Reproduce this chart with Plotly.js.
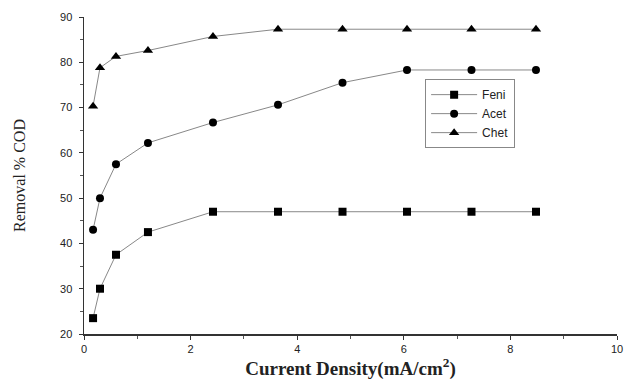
<!DOCTYPE html>
<html><head><meta charset="utf-8">
<script src="https://cdn.plot.ly/plotly-3.0.1.min.js"></script>
<style>html,body{margin:0;padding:0;background:#fff;}#chart{width:627px;height:386px;}</style>
</head><body><div id="chart"></div>
<script>
const currentDensity = [0.17, 0.3, 0.6, 1.2, 2.42, 3.64, 4.85, 6.06, 7.27, 8.48];
const feni = [23.5, 30, 37.5, 42.5, 47, 47, 47, 47, 47, 47];
const acet = [43, 50, 57.5, 62.2, 66.7, 70.6, 75.5, 78.3, 78.3, 78.3];
const chet = [70.3, 78.8, 81.3, 82.6, 85.7, 87.3, 87.3, 87.3, 87.3, 87.3];
const seriesNames = ['Feni', 'Acet', 'Chet'];
const symbols = ['square', 'circle', 'triangle-up'];
const allSeries = [feni, acet, chet];

const traces = allSeries.map((ys, i) => ({
  x: currentDensity, y: ys, name: seriesNames[i], type: 'scatter', mode: 'lines+markers',
  line: {color: '#888', width: 1},
  marker: {symbol: symbols[i], color: '#000', size: i === 2 ? 9 : 8}
}));

const layout = {
  width: 627, height: 386,
  margin: {l: 84, r: 10, t: 17, b: 52},
  paper_bgcolor: '#fff', plot_bgcolor: '#fff',
  showlegend: true,
  legend: {x: 0.64, y: 0.804, xanchor: 'left', yanchor: 'top', bgcolor: '#fff',
    bordercolor: '#888', borderwidth: 1, font: {family: 'Liberation Sans, Arial', size: 12, color: '#222'},
    tracegroupgap: 0, itemwidth: 46},
  xaxis: {range: [0, 10], dtick: 2, tick0: 0, showgrid: false, zeroline: false,
    showline: true, linecolor: '#333', linewidth: 1.5, ticks: 'outside', ticklen: 4, tickcolor: '#333',
    minor: {ticks: 'outside', ticklen: 3, dtick: 1, tickcolor: '#555'},
    tickfont: {family: 'Liberation Sans, Arial', size: 11, color: '#222'},
    title: {text: 'Current Density(mA/cm<sup>2</sup>)', font: {family: 'Liberation Serif, Times New Roman', size: 19, color: '#222', weight: 'bold'}, standoff: 6}},
  yaxis: {range: [20, 90], dtick: 10, showgrid: false, zeroline: false,
    showline: true, linecolor: '#333', linewidth: 1.5, ticks: 'outside', ticklen: 4, tickcolor: '#333',
    minor: {ticks: 'outside', ticklen: 3, dtick: 5, tickcolor: '#555'},
    ticklabelstandoff: 4,
    tickfont: {family: 'Liberation Sans, Arial', size: 11, color: '#222'},
    title: {text: 'Removal % COD', font: {family: 'Liberation Serif, Times New Roman', size: 16, color: '#222'}, standoff: 30}}
};
Plotly.newPlot('chart', traces, layout, {displayModeBar: false, staticPlot: true});
</script></body></html>
